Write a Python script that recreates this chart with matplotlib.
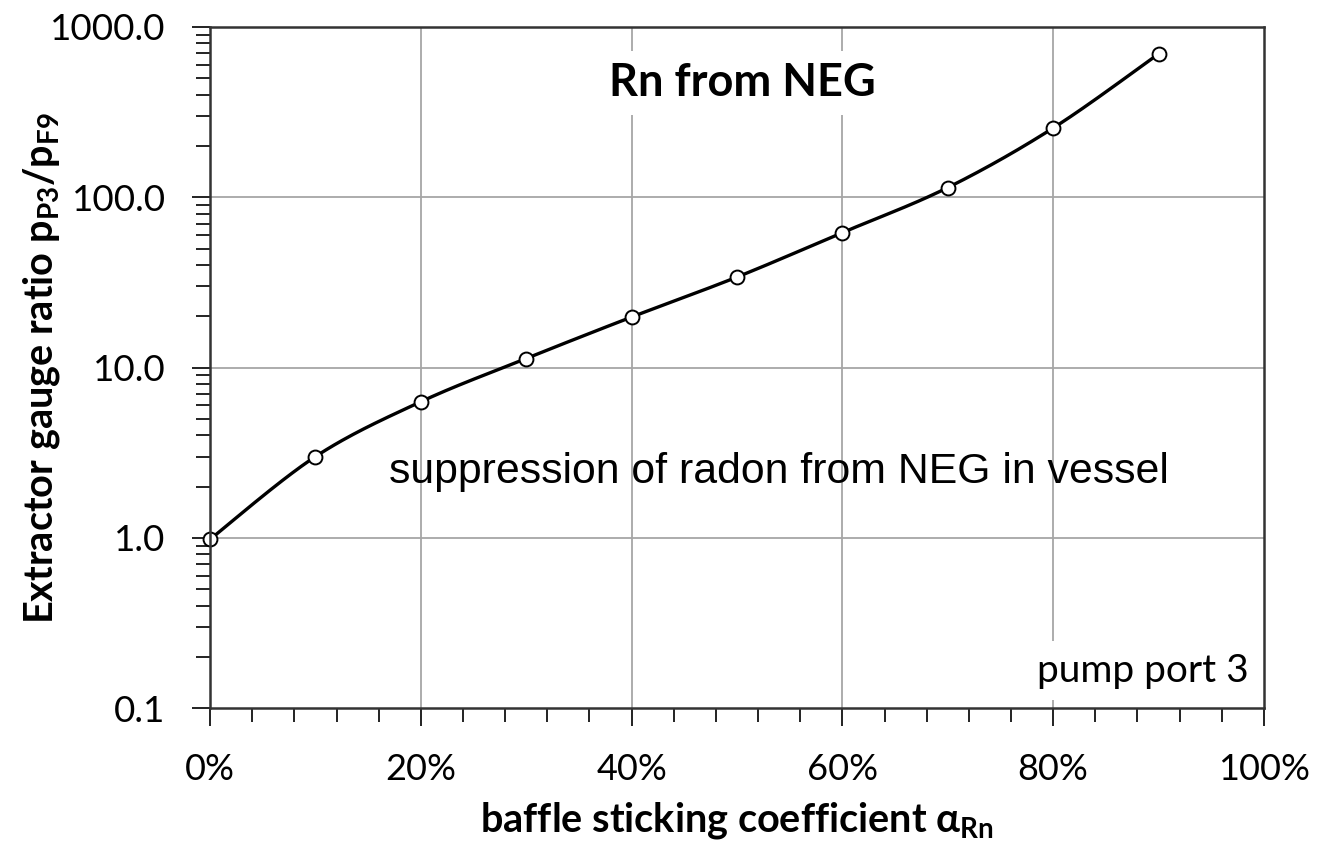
import numpy as np
import matplotlib
matplotlib.use("Agg")
import matplotlib.pyplot as plt
from matplotlib.ticker import FixedLocator, FuncFormatter, LogLocator, NullFormatter

plt.rcParams["font.family"] = ["Lato", "DejaVu Sans"]
plt.rcParams["mathtext.fontset"] = "custom"
plt.rcParams["mathtext.rm"] = "Lato"
plt.rcParams["mathtext.bf"] = "Lato:bold"
plt.rcParams["mathtext.it"] = "Lato:italic"

# baffle sticking coefficient (fraction) and gauge pressure ratio
sticking = [0.0, 0.1, 0.2, 0.3, 0.4, 0.5, 0.6, 0.7, 0.8, 0.9]
ratio = [0.98, 3.0, 6.3, 11.3, 19.8, 34.0, 62.0, 114.0, 255.0, 695.0]

x_ticks = [0.0, 0.2, 0.4, 0.6, 0.8, 1.0]
y_ticks = [0.1, 1.0, 10.0, 100.0, 1000.0]


def smooth_curve(xs, ys, n=40):
    """Bezier smoothing (Catmull-Rom style) in x / log10(y) space."""
    px = np.asarray(xs, float)
    py = np.log10(np.asarray(ys, float))
    pts = np.column_stack([px, py])
    out = []
    m = len(pts)
    t = np.linspace(0, 1, n)[:, None]
    for i in range(m - 1):
        p0 = pts[i - 1] if i > 0 else pts[i]
        p1 = pts[i]
        p2 = pts[i + 1]
        p3 = pts[i + 2] if i + 2 < m else pts[i + 1]
        c1 = p1 + (p2 - p0) / 6.0
        c2 = p2 - (p3 - p1) / 6.0
        seg = ((1 - t) ** 3) * p1 + 3 * ((1 - t) ** 2) * t * c1 + 3 * (1 - t) * t ** 2 * c2 + t ** 3 * p2
        out.append(seg if i == 0 else seg[1:])
    c = np.vstack(out)
    return c[:, 0], 10 ** c[:, 1]


fig = plt.figure(figsize=(13.26, 8.43), dpi=100)
ax = fig.add_axes([0.1584, 0.160, 0.7948, 0.808])

ax.set_yscale("log")
ax.set_xlim(0, 1.0)
ax.set_ylim(0.1, 1000)

# grid
for gx in x_ticks[1:-1]:
    ax.axvline(gx, color="#a6a6a6", lw=1.3, zorder=1)
for gy in y_ticks[1:-1]:
    ax.axhline(gy, color="#a6a6a6", lw=1.3, zorder=1)

cx, cy = smooth_curve(sticking, ratio)
ax.plot(cx, cy, color="black", lw=2.4, zorder=3, solid_capstyle="round")
ax.plot(sticking, ratio, linestyle="none", marker="o", ms=10, mfc="white",
        mec="black", mew=1.4, zorder=4, clip_on=False)

# ticks
ax.xaxis.set_major_locator(FixedLocator(x_ticks))
ax.xaxis.set_minor_locator(FixedLocator(np.arange(0, 1.0001, 0.04)))
ax.xaxis.set_major_formatter(FuncFormatter(lambda v, p: f"{v*100:.0f}%"))
ax.yaxis.set_major_locator(FixedLocator(y_ticks))
ax.yaxis.set_minor_locator(LogLocator(base=10, subs=np.arange(2, 10)))
ax.yaxis.set_minor_formatter(NullFormatter())
ax.yaxis.set_major_formatter(FuncFormatter(lambda v, p: f"{v:.1f}"))

ax.tick_params(axis="both", which="major", direction="out", length=13, width=1.4,
               color="#222222")
ax.tick_params(axis="both", which="minor", direction="out", length=10, width=1.4,
               color="#222222")
ax.tick_params(axis="x", which="major", labelsize=26, pad=19)
ax.tick_params(axis="y", which="major", labelsize=26.5, pad=19)
for sp in ax.spines.values():
    sp.set_linewidth(1.8)
    sp.set_color("#333333")
    sp.set_zorder(5)

ax.set_xlabel(r"baffle sticking coefficient $\mathbf{\alpha_{Rn}}$",
              fontsize=28.5, fontweight="bold")
ax.xaxis.set_label_coords(0.5, -0.135)
ax.set_ylabel(r"Extractor gauge ratio $\mathbf{p_{P3}/p_{F9}}$",
              fontsize=28.5, fontweight="bold")
ax.yaxis.set_label_coords(-0.140, 0.5)

ax.text(0.505, 0.918, "Rn from NEG", transform=ax.transAxes, ha="center",
        va="center", fontsize=32.5, fontweight="bold", zorder=2,
        bbox=dict(facecolor="white", edgecolor="none", pad=8))
ax.text(0.17, 0.3465, "suppression of radon from NEG in vessel",
        transform=ax.transAxes, ha="left", va="center", fontsize=30.8,
        family=["Liberation Sans", "DejaVu Sans"], zorder=2)
ax.text(0.985, 0.055, "pump port 3", transform=ax.transAxes, ha="right",
        va="center", fontsize=28, zorder=2,
        bbox=dict(facecolor="white", edgecolor="none", pad=8))

fig.savefig("out.png", dpi=100, facecolor="white")
